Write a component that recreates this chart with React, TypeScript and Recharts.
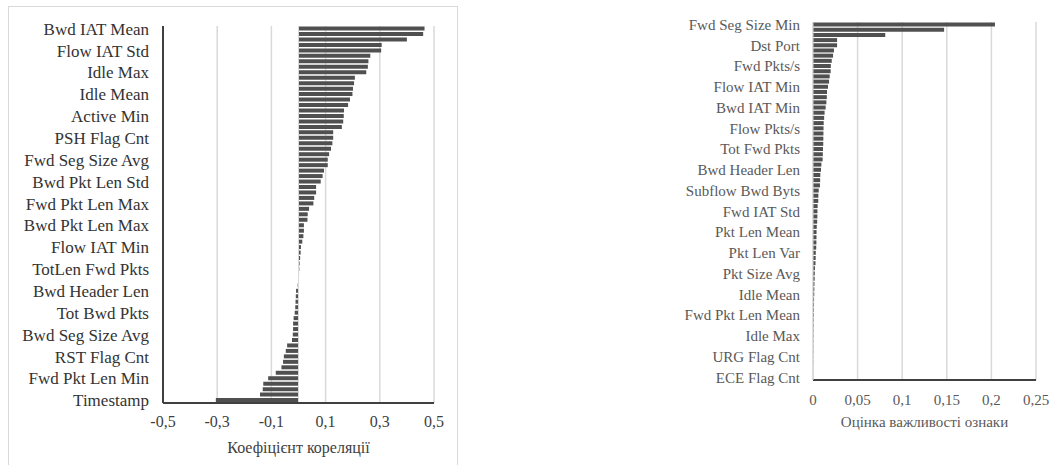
import React from "react";
import {
  BarChart, Bar, XAxis, YAxis, CartesianGrid, ReferenceLine,
} from "recharts";

// correlation coefficients (left chart), top to bottom
const LEFT_LABELS = [
  "Bwd IAT Mean", "Flow  IAT Std", "Idle Max", "Idle Mean", "Active Min", "PSH Flag Cnt",
  "Fwd Seg Size Avg", "Bwd Pkt Len Std", "Fwd Pkt Len Max", "Bwd Pkt Len Max", "Flow IAT Min",
  "TotLen Fwd Pkts", "Bwd Header Len", "Tot Bwd Pkts", "Bwd Seg Size Avg", "RST Flag Cnt",
  "Fwd Pkt Len Min", "Timestamp",
];
const LEFT_VALUES = [
  0.465, 0.46, 0.4, 0.307, 0.305, 0.265, 0.258, 0.256, 0.25, 0.208,
  0.205, 0.201, 0.199, 0.19, 0.183, 0.168, 0.167, 0.165, 0.16, 0.128,
  0.128, 0.125, 0.12, 0.113, 0.108, 0.108, 0.094, 0.089, 0.082, 0.065,
  0.065, 0.058, 0.055, 0.039, 0.034, 0.033, 0.02, 0.02, 0.018, 0.014,
  0.009, 0.008, 0.006, 0.004, 0.003, 0.002, 0.001, -0.003, -0.009, -0.01,
  -0.011, -0.012, -0.014, -0.018, -0.02, -0.02, -0.021, -0.024, -0.042, -0.047,
  -0.054, -0.057, -0.063, -0.084, -0.112, -0.13, -0.132, -0.142, -0.305,
];
const LEFT_TICKS = [-0.5, -0.3, -0.1, 0.1, 0.3, 0.5];

// feature importance (right chart), top to bottom
const RIGHT_LABELS = [
  "Fwd Seg Size Min", "Dst Port", "Fwd Pkts/s", "Flow IAT Min", "Bwd IAT Min", "Flow Pkts/s",
  "Tot Fwd Pkts", "Bwd Header Len", "Subflow Bwd Byts", "Fwd IAT Std", "Pkt Len Mean",
  "Pkt Len Var", "Pkt Size Avg", "Idle Mean", "Fwd Pkt Len Mean", "Idle Max", "URG Flag Cnt",
  "ECE Flag Cnt",
];
const RIGHT_VALUES = [
  0.204, 0.147, 0.081, 0.027, 0.027, 0.0235, 0.0225, 0.021, 0.02, 0.0198,
  0.0187, 0.018, 0.0168, 0.0157, 0.0155, 0.015, 0.0142, 0.013, 0.0125, 0.012,
  0.0118, 0.0117, 0.0116, 0.0115, 0.0112, 0.011, 0.0108, 0.0094, 0.009, 0.0082,
  0.008, 0.0078, 0.0064, 0.006, 0.0059, 0.0052, 0.005, 0.0049, 0.0047, 0.0042,
  0.004, 0.0039, 0.0038, 0.0036, 0.0031, 0.003, 0.0028, 0.0022, 0.002, 0.0019,
  0.0016, 0.0015, 0.0014, 0.0012, 0.0011, 0.001, 0.0009, 0.0007, 0.0006, 0.0005,
  0.0005, 0.0004, 0.0003, 0.0003, 0.0002, 0.0002, 0.0001, 0.0001, 0.00005,
];
const RIGHT_TICKS = [0, 0.05, 0.1, 0.15, 0.2, 0.25];

const SERIF = "'Liberation Serif', 'DejaVu Serif', serif";
const FRAME = "#404040";
const GRID = "#d9d9d9";
const BAR = "#505050";

const fmt = (v: number) => String(v).replace(".", ",");

// only every 4th feature gets a label, like the original
const rows = (values: number[], labels: string[]) =>
  values.map((v, i) => ({ name: i % 4 === 0 ? labels[i / 4] : `#${i}`, v }));

export default function App() {
  const left = rows(LEFT_VALUES, LEFT_LABELS);
  const right = rows(RIGHT_VALUES, RIGHT_LABELS);

  return (
    <div style={{ position: "absolute", left: 0, top: 0, width: 1054, height: 465, background: "#fff", fontFamily: SERIF, overflow: "hidden" }}>
      <div style={{ position: "absolute", left: 8, top: 6, width: 450, height: 480, border: `1px solid ${GRID}`, boxSizing: "border-box" }} />

      <div style={{ position: "absolute", left: 0, top: 0 }}>
        <BarChart
          width={460}
          height={465}
          data={left}
          layout="vertical"
          margin={{ top: 26, right: 26, bottom: 0, left: 0 }}
          barCategoryGap="10%"
        >
          <CartesianGrid horizontal={false} stroke={GRID} strokeWidth={1.5} />
          <XAxis
            type="number"
            domain={[-0.5, 0.5]}
            ticks={LEFT_TICKS}
            tickFormatter={fmt}
            height={62}
            axisLine={{ stroke: FRAME, strokeWidth: 2 }}
            tickLine={false}
            tickSize={0}
            tickMargin={13}
            tick={{ fill: FRAME, fontSize: 16, fontFamily: SERIF }}
            label={{ value: "Коефіцієнт кореляції", position: "insideBottom", offset: 12, fill: FRAME, fontSize: 16, fontFamily: SERIF }}
          />
          <XAxis xAxisId="top" orientation="top" type="number" domain={[-0.5, 0.5]} height={0} tick={false} tickLine={false} axisLine={{ stroke: FRAME, strokeWidth: 2 }} />
          <YAxis
            type="category"
            dataKey="name"
            width={163}
            interval={3}
            axisLine={{ stroke: FRAME, strokeWidth: 2 }}
            tickLine={false}
            tickSize={0}
            tickMargin={14}
            tick={{ fill: "#333", fontSize: 17, fontFamily: SERIF }}
          />
          <YAxis yAxisId="r" orientation="right" type="category" dataKey="name" width={0} tick={false} tickLine={false} axisLine={{ stroke: FRAME, strokeWidth: 2 }} />
          <ReferenceLine x={0} stroke={GRID} />
          <Bar dataKey="v" fill={BAR} isAnimationActive={false} />
        </BarChart>
      </div>

      <div style={{ position: "absolute", left: 600, top: 0 }}>
        <BarChart
          width={454}
          height={465}
          data={right}
          layout="vertical"
          margin={{ top: 22, right: 18, bottom: 0, left: 0 }}
          barCategoryGap="10%"
        >
          <CartesianGrid horizontal={false} stroke={GRID} strokeWidth={1.5} />
          <XAxis
            type="number"
            domain={[0, 0.25]}
            ticks={RIGHT_TICKS}
            tickFormatter={fmt}
            height={85}
            axisLine={{ stroke: FRAME, strokeWidth: 2 }}
            tickLine={false}
            tickSize={0}
            tickMargin={14}
            tick={{ fill: "#595959", fontSize: 15, fontFamily: SERIF }}
            label={{ value: "Оцінка важливості ознаки", position: "insideBottom", offset: 38, fill: "#595959", fontSize: 15, fontFamily: SERIF }}
          />
          <XAxis xAxisId="top" orientation="top" type="number" domain={[0, 0.25]} height={0} tick={false} tickLine={false} axisLine={{ stroke: FRAME, strokeWidth: 2 }} />
          <YAxis
            type="category"
            dataKey="name"
            width={213}
            interval={3}
            axisLine={{ stroke: GRID }}
            tickLine={false}
            tickSize={0}
            tickMargin={13}
            tick={{ fill: "#595959", fontSize: 15, fontFamily: SERIF }}
          />
          <YAxis yAxisId="r" orientation="right" type="category" dataKey="name" width={0} tick={false} tickLine={false} axisLine={{ stroke: FRAME, strokeWidth: 2 }} />
          <Bar dataKey="v" fill={BAR} isAnimationActive={false} />
        </BarChart>
      </div>
    </div>
  );
}
